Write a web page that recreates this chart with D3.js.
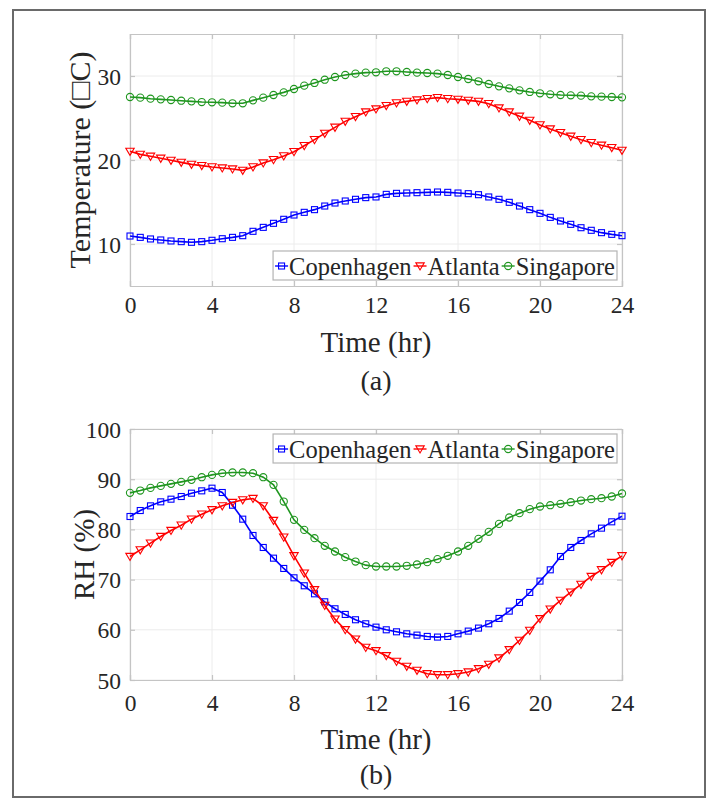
<!DOCTYPE html>
<html><head><meta charset="utf-8">
<script src="https://cdn.jsdelivr.net/npm/d3@7"></script>
<style>
html,body{margin:0;padding:0;background:#fff;}
svg{display:block;}
text{font-family:"Liberation Serif","Times New Roman",serif;fill:#262626;}
</style></head>
<body>
<svg id="chart" width="708" height="799"></svg>
<script>
const hours = [0,0.5,1,1.5,2,2.5,3,3.5,4,4.5,5,5.5,6,6.5,7,7.5,8,8.5,9,9.5,10,10.5,11,11.5,12,12.5,13,13.5,14,14.5,15,15.5,16,16.5,17,17.5,18,18.5,19,19.5,20,20.5,21,21.5,22,22.5,23,23.5,24];
const cities = ["Copenhagen","Atlanta","Singapore"];
const xTicks = [0,4,8,12,16,20,24];
const tempTicks = [10,20,30];
const rhTicks = [50,60,70,80,90,100];

const tempCopenhagen = [10.95,10.79,10.6,10.48,10.36,10.28,10.2,10.28,10.44,10.63,10.79,10.99,11.51,11.98,12.46,12.94,13.45,13.77,14.09,14.52,14.88,15.12,15.32,15.52,15.6,15.91,16.03,16.07,16.11,16.15,16.19,16.15,16.07,15.99,15.87,15.6,15.32,14.96,14.52,14.09,13.65,13.17,12.74,12.34,11.94,11.63,11.35,11.15,10.99];
const tempAtlanta = [21.03,20.67,20.44,20.2,19.96,19.72,19.48,19.33,19.17,19.05,18.93,18.77,19.17,19.64,20.04,20.48,20.99,21.7,22.42,23.17,23.89,24.6,25.16,25.71,26.07,26.47,26.79,26.98,27.14,27.3,27.42,27.3,27.22,27.1,26.98,26.7,26.19,25.71,25.2,24.72,24.17,23.69,23.25,22.82,22.42,22.06,21.75,21.47,21.15];
const tempSingapore = [27.5,27.42,27.3,27.22,27.14,27.06,26.98,26.9,26.87,26.83,26.75,26.75,27.1,27.42,27.74,28.05,28.45,28.85,29.17,29.56,29.88,30.12,30.28,30.4,30.44,30.56,30.56,30.48,30.4,30.36,30.28,30.12,29.88,29.64,29.37,29.05,28.77,28.53,28.29,28.1,27.94,27.82,27.74,27.7,27.66,27.58,27.54,27.5,27.46];

const rhCopenhagen = [82.57,83.76,84.69,85.49,86.02,86.55,87.21,87.68,88.21,87.35,84.82,82.04,78.79,76.4,74.27,72.22,70.36,68.77,67.17,65.58,64.19,63.06,62.0,61.2,60.53,60.0,59.6,59.2,58.94,58.68,58.55,58.68,59.2,59.74,60.34,61.2,62.26,63.72,65.45,67.44,69.7,71.95,74.6,76.4,77.79,79.12,80.25,81.51,82.63];
const rhAtlanta = [74.6,75.93,77.26,78.59,79.78,80.84,82.04,83.03,83.9,84.69,85.36,85.89,86.15,84.69,81.77,78.45,74.74,71.29,67.97,64.85,62.13,60.0,58.15,56.49,55.83,54.83,53.7,52.71,51.91,51.25,51.05,51.05,51.25,51.58,52.24,53.11,54.37,56.03,57.88,59.87,62.2,64.12,65.85,67.5,69.03,70.62,71.95,73.41,74.74];
const rhSingapore = [87.28,87.74,88.27,88.67,89.07,89.47,89.87,90.4,90.86,91.2,91.33,91.33,91.2,90.4,88.87,85.55,81.9,79.9,78.25,76.73,75.6,74.47,73.6,72.88,72.61,72.61,72.61,72.75,73.01,73.48,74.07,74.74,75.6,76.73,78.12,79.52,81.1,82.37,83.23,84.03,84.56,84.82,85.09,85.42,85.75,86.02,86.22,86.55,87.15];

const colors = {Copenhagen:"#0000ff", Atlanta:"#ff0000", Singapore:"#1f961f"};
const markers = {Copenhagen:"square", Atlanta:"tri", Singapore:"circle"};

const svg = d3.select("#chart");

// outer frame
svg.append("rect").attr("x",13).attr("y",10).attr("width",692).attr("height",787)
  .attr("fill","none").attr("stroke","#6a6a6a").attr("stroke-width",2);

function drawMarker(g, type, x, y, color){
  if(type==="square"){
    g.append("rect").attr("x",x-3).attr("y",y-3).attr("width",6).attr("height",6)
     .attr("fill","none").attr("stroke",color).attr("stroke-width",1.1);
  } else if(type==="circle"){
    g.append("circle").attr("cx",x).attr("cy",y).attr("r",3.6)
     .attr("fill","none").attr("stroke",color).attr("stroke-width",1.1);
  } else {
    const s=4.2;
    g.append("path").attr("d",`M${x-s},${y-s*0.75}L${x+s},${y-s*0.75}L${x},${y+s*0.95}Z`)
     .attr("fill","none").attr("stroke",color).attr("stroke-width",1.1);
  }
}

function panel(opts){
  const {top,bottom,yDomain,yTicks,series,ylabel,legendY,tickY,xlabY,capY,cap} = opts;
  const left=130,right=622;
  const x = d3.scaleLinear().domain([0,24]).range([left,right]);
  const y = d3.scaleLinear().domain(yDomain).range([bottom,top]);
  const g = svg.append("g");
  // grid
  g.selectAll(".gx").data(xTicks).enter().append("line")
    .attr("x1",d=>x(d)).attr("x2",d=>x(d)).attr("y1",top).attr("y2",bottom)
    .attr("stroke","#ececec").attr("stroke-width",1);
  g.selectAll(".gy").data(yTicks).enter().append("line")
    .attr("x1",left).attr("x2",right).attr("y1",d=>y(d)).attr("y2",d=>y(d))
    .attr("stroke","#ececec").attr("stroke-width",1);
  // axes
  const ax = g.append("g").attr("transform",`translate(0,${bottom})`)
    .call(d3.axisBottom(x).tickValues(xTicks).tickSize(-5).tickPadding(0).tickFormat(d3.format("d")));
  const axT = g.append("g").attr("transform",`translate(0,${top})`)
    .call(d3.axisTop(x).tickValues(xTicks).tickSize(-5).tickFormat(""));
  const ay = g.append("g").attr("transform",`translate(${left},0)`)
    .call(d3.axisLeft(y).tickValues(yTicks).tickSize(-5).tickPadding(9).tickFormat(d3.format("d")));
  const ayR = g.append("g").attr("transform",`translate(${right},0)`)
    .call(d3.axisRight(y).tickValues(yTicks).tickSize(-5).tickFormat(""));
  [ax,axT,ay,ayR].forEach(a=>{
    a.select(".domain").attr("stroke","#c4c4c4").attr("stroke-width",1.2);
    a.selectAll(".tick line").attr("stroke","#c4c4c4").attr("stroke-width",1.2);
    a.selectAll(".tick text").attr("font-size",23.5).attr("fill","#262626")
      .attr("font-family",'"Liberation Serif",serif');
  });
  ax.selectAll(".tick text").attr("dy",null).attr("y",tickY-bottom).attr("dominant-baseline","central");
  ay.selectAll(".tick text").attr("dy","0.34em");
  // series
  const line = d3.line().x((d,i)=>x(hours[i])).y(d=>y(d)).curve(d3.curveLinear);
  series.forEach(s=>{
    g.append("path").datum(s.values).attr("d",line).attr("fill","none")
      .attr("stroke",colors[s.name]).attr("stroke-width",1.6);
    const mg = g.append("g");
    s.values.forEach((v,i)=>drawMarker(mg, markers[s.name], x(hours[i]), y(v), colors[s.name]));
  });
  // labels
  svg.append("text").attr("transform",`translate(${opts.ylabX},${(top+bottom)/2}) rotate(-90)`)
    .attr("text-anchor","middle").attr("dominant-baseline","central").attr("font-size",opts.ylabSize).text(ylabel);
  svg.append("text").attr("x",(left+right)/2).attr("y",xlabY).attr("text-anchor","middle")
    .attr("dominant-baseline","central").attr("font-size",29).text("Time (hr)");
  svg.append("text").attr("x",(left+right)/2).attr("y",capY).attr("text-anchor","middle")
    .attr("dominant-baseline","central").attr("font-size",28).text(cap);
  // legend
  const lg = svg.append("g");
  const box = lg.append("rect").attr("y",legendY).attr("height",29)
    .attr("fill","#fff").attr("stroke","#b4b4b4").attr("stroke-width",1.2);
  const items=[];
  cities.forEach(c=>{
    const ig = lg.append("g");
    ig.append("line").attr("x1",0).attr("x2",13).attr("y1",0).attr("y2",0)
      .attr("stroke",colors[c]).attr("stroke-width",1.4);
    drawMarker(ig, markers[c], 6.5, 0, colors[c]);
    const t = ig.append("text").attr("x",14).attr("y",0).attr("dominant-baseline","central")
      .attr("font-size",24.5).text(c);
    const w = 14 + t.node().getComputedTextLength();
    items.push({ig,w});
  });
  const gap = 2;
  const total = items.reduce((a,b)=>a+b.w,0) + gap*(items.length-1) + 4;
  const bx = right - 5 - total;
  box.attr("x",bx).attr("width",total);
  let cx = bx + 2;
  items.forEach(it=>{ it.ig.attr("transform",`translate(${cx},${legendY+15})`); cx += it.w + gap; });
}

panel({top:34,bottom:286,yDomain:[5,35],yTicks:tempTicks,
  series:[{name:"Copenhagen",values:tempCopenhagen},{name:"Atlanta",values:tempAtlanta},{name:"Singapore",values:tempSingapore}],
  ylabel:"Temperature (\u25A1C)",ylabX:79,ylabSize:30,legendY:251,tickY:305,xlabY:342,capY:380,cap:"(a)"});
panel({top:429,bottom:680,yDomain:[50,100],yTicks:rhTicks,
  series:[{name:"Copenhagen",values:rhCopenhagen},{name:"Atlanta",values:rhAtlanta},{name:"Singapore",values:rhSingapore}],
  ylabel:"RH (%)",ylabX:84,ylabSize:29,legendY:434,tickY:703,xlabY:739,capY:774,cap:"(b)"});
</script>
</body></html>
